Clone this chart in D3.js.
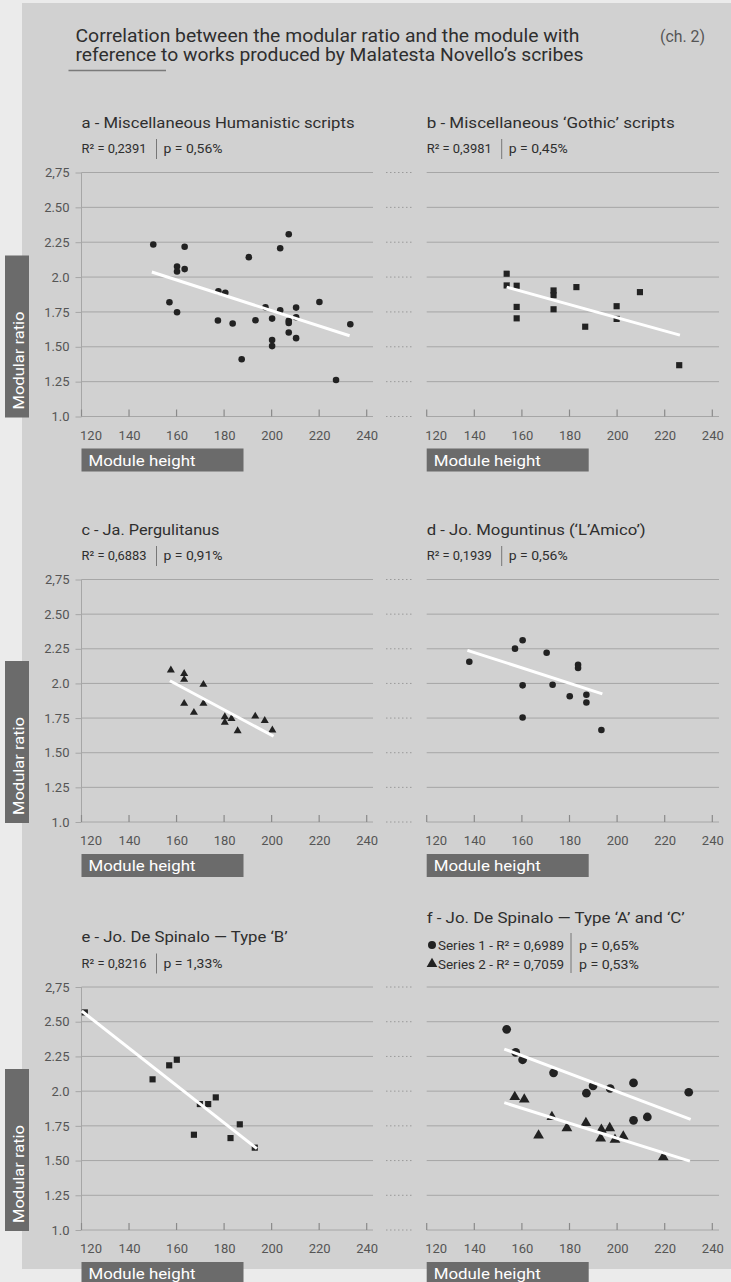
<!DOCTYPE html>
<html><head><meta charset="utf-8">
<script src="https://cdn.jsdelivr.net/npm/d3@7"></script>
<style>
html,body{margin:0;padding:0;background:#ebebeb;}
svg{display:block;font-family:Roboto,'Open Sans',sans-serif;}
</style></head>
<body>
<svg id="c" width="731" height="1282"></svg>
<script>
// ---------- DATA ----------
const xTicks = [120,140,160,180,200,220,240];
const yTicks = [1.0,1.25,1.5,1.75,2.0,2.25,2.5,2.75];
const yTickLabels = ["1.0","1.25","1.50","1.75","2.0","2.25","2.50","2,75"];

const titles = [
  "a - Miscellaneous Humanistic scripts",
  "b - Miscellaneous ‘Gothic’ scripts",
  "c - Ja. Pergulitanus",
  "d - Jo. Moguntinus (‘L’Amico’)",
  "e - Jo. De Spinalo — Type ‘B’",
  "f - Jo. De Spinalo — Type ‘A’ and ‘C’"
];
const rSquared = ["R² = 0,2391","R² = 0,3981","R² = 0,6883","R² = 0,1939","R² = 0,8216"];
const pValues = ["p = 0,56%","p = 0,45%","p = 0,91%","p = 0,56%","p = 1,33%"];
const seriesLegend = ["Series 1 - R² = 0,6989","Series 2 - R² = 0,7059"];
const seriesP = ["p = 0,65%","p = 0,53%"];

const pointsA = [[150.2,2.233],[160.2,2.076],[160.2,2.04],[163.4,2.217],[163.4,2.057],[157.0,1.819],[160.2,1.748],
  [177.6,1.898],[180.5,1.888],[177.4,1.688],[183.6,1.667],[190.4,2.143],[193.2,1.690],[187.4,1.410],[197.4,1.783],
  [200.2,1.702],[200.2,1.548],[200.2,1.505],[203.6,1.762],[203.6,2.207],[207.2,2.307],[207.2,1.686],[207.2,1.671],
  [207.2,1.602],[210.3,1.781],[210.3,1.712],[210.3,1.562],[220.1,1.821],[227.1,1.262],[233.1,1.662]];
const trendA = [[149.6,2.036],[232.8,1.579]];

const pointsB = [[153.6,2.024],[153.6,1.940],[157.8,1.938],[157.8,1.786],[157.8,1.704],[173.3,1.904],[173.3,1.870],
  [173.3,1.769],[182.9,1.928],[186.6,1.644],[199.8,1.791],[199.8,1.700],[209.6,1.892],[226.1,1.368]];
const trendB = [[153.6,1.928],[226.4,1.584]];

const pointsC = [[157.6,2.096],[163.2,2.071],[163.2,2.028],[163.2,1.855],[167.3,1.790],[171.3,1.992],[171.3,1.855],
  [180.3,1.758],[180.3,1.718],[183.1,1.746],[185.7,1.657],[193.1,1.763],[197.1,1.732],[200.3,1.662]];
const trendC = [[157.2,2.019],[200.8,1.619]];

const pointsD = [[137.9,2.157],[157.1,2.251],[160.3,2.312],[160.3,1.986],[160.3,1.754],[170.4,2.222],[172.9,1.990],
  [180.1,1.908],[183.6,2.135],[183.6,2.111],[187.1,1.918],[187.1,1.862],[193.4,1.664]];
const trendD = [[137.1,2.239],[193.8,1.925]];

const pointsE = [[121.4,2.567],[149.9,2.085],[156.9,2.186],[160.1,2.226],[167.3,1.686],[169.8,1.907],[173.3,1.907],
  [176.5,1.955],[182.7,1.662],[186.6,1.761],[192.9,1.593]];
const trendE = [[120.1,2.577],[193.8,1.586]];

const pointsF1 = [[153.6,2.445],[157.4,2.279],[160.3,2.226],[173.3,2.132],[187.1,1.985],[189.9,2.038],[197.1,2.019],
  [206.9,2.059],[206.9,1.790],[212.7,1.814],[230.1,1.992]];
const trendF1 = [[152.6,2.303],[230.9,1.797]];
const pointsF2 = [[157.0,1.958],[161.0,1.941],[172.6,1.814],[167.0,1.681],[178.9,1.734],[186.9,1.771],[193.4,1.722],
  [196.9,1.734],[193.1,1.660],[199.1,1.650],[202.6,1.674],[219.4,1.525]];
const trendF2 = [[152.6,1.917],[230.6,1.496]];

// ---------- LAYOUT ----------
const svg = d3.select("#c");
const PANEL_BG = "#d1d1d1", GRID = "#a6a6a6", DARK = "#222", TXT = "#2e2e2e", TICK = "#555", BOX = "#6b6b6b";

svg.append("rect").attr("x",0).attr("y",0).attr("width",731).attr("height",1282).attr("fill","#ebebeb");
svg.append("rect").attr("x",22).attr("y",3).attr("width",709).attr("height",1266).attr("fill",PANEL_BG);

// main title
const mt = svg.append("g").attr("fill",TXT).attr("font-size",18);
mt.append("text").attr("x",75.5).attr("y",41.5).attr("textLength",504).attr("lengthAdjust","spacingAndGlyphs")
  .text("Correlation between the modular ratio and the module with");
mt.append("text").attr("x",75.5).attr("y",61).attr("textLength",508).attr("lengthAdjust","spacingAndGlyphs")
  .text("reference to works produced by Malatesta Novello’s scribes");
svg.append("text").attr("x",660).attr("y",41.5).attr("fill","#555").attr("font-size",16).attr("textLength",45)
  .attr("lengthAdjust","spacingAndGlyphs").text("(ch. 2)");
svg.append("line").attr("x1",68.5).attr("x2",166).attr("y1",70.5).attr("y2",70.5).attr("stroke","#7a7a7a").attr("stroke-width",1.5);

const rows = [{top:172.5,bottom:416.5},{top:579.5,bottom:822},{top:987,bottom:1230}];
const cols = [{x0:81.5,x1:366.7,gridEnd:373,left:true},{x0:426.7,x1:712.3,gridEnd:719,left:false}];
const titleLen = [273,248,138,219,206,258];

function symbolPath(type,size){ return d3.symbol().type(type).size(size)(); }

function drawPanel(ci, ri, idx){
  const c = cols[ci], r = rows[ri];
  const x = d3.scaleLinear().domain([120,240]).range([c.x0,c.x1]);
  const y = d3.scaleLinear().domain([1,2.75]).range([r.bottom,r.top]);
  const g = svg.append("g");

  // gridlines
  g.append("g").selectAll("line").data(yTicks).join("line")
    .attr("x1",c.x0).attr("x2",c.gridEnd).attr("y1",d=>y(d)).attr("y2",d=>y(d))
    .attr("stroke",GRID).attr("stroke-width",1);

  if (c.left){
    const ya = d3.axisLeft(y).tickValues(yTicks).tickSize(6)
      .tickFormat((d,i)=>yTickLabels[i]);
    const yg = g.append("g").attr("transform",`translate(${c.x0},0)`).call(ya);
    yg.select(".domain").attr("stroke",GRID).attr("d",`M0,${r.top}V${r.bottom}`);
    yg.selectAll(".tick line").attr("stroke",GRID);
    yg.selectAll(".tick text").attr("fill",TICK).attr("font-size",13).attr("font-family","Roboto,sans-serif").attr("x",-12);
    g.append("g").selectAll("line").data(yTicks).join("line")
      .attr("x1",386).attr("x2",413).attr("y1",d=>y(d)).attr("y2",d=>y(d))
      .attr("stroke","#9a9a9a").attr("stroke-width",1).attr("stroke-dasharray","1.5,2.5");
    g.append("rect").attr("x",5).attr("y",r.bottom-161).attr("width",24).attr("height",162).attr("fill",BOX);
    g.append("text").attr("transform",`translate(23.5,${r.bottom-7}) rotate(-90)`)
      .attr("fill","#fff").attr("font-size",15.5).attr("textLength",98).attr("lengthAdjust","spacingAndGlyphs").text("Modular ratio");
  }
  const xa = d3.axisBottom(x).tickValues(xTicks).tickSize(0).tickPadding(14);
  const xg = g.append("g").attr("transform",`translate(0,${r.bottom})`).call(xa);
  xg.select(".domain").remove();
  xg.selectAll(".tick text").attr("fill",TICK).attr("font-size",13).attr("font-family","Roboto,sans-serif")
    .attr("dx",(d,i)=> i===0 ? 9 : 0);
  g.append("g").selectAll("line").data(xTicks).join("line")
    .attr("x1",d=>x(d)).attr("x2",d=>x(d)).attr("y1",r.bottom).attr("y2",r.bottom-7)
    .attr("stroke","#8a8a8a").attr("stroke-width",1.2);
  g.append("rect").attr("x",c.x0).attr("y",r.bottom+32).attr("width",162).attr("height",23).attr("fill",BOX);
  g.append("text").attr("x",c.x0+7).attr("y",r.bottom+49).attr("fill","#fff").attr("font-size",15.5)
    .attr("textLength",107).attr("lengthAdjust","spacingAndGlyphs").text("Module height");

  const isF = idx===5;
  g.append("text").attr("x",c.x0).attr("y",isF ? r.top-64 : r.top-45).attr("fill",TXT).attr("font-size",15.5)
    .attr("textLength",titleLen[idx]).attr("lengthAdjust","spacingAndGlyphs").text(titles[idx]);
  if (!isF){
    const by = r.top-19.5;
    g.append("text").attr("x",c.x0).attr("y",by).attr("fill",TXT).attr("font-size",12.5)
      .attr("textLength",65).attr("lengthAdjust","spacingAndGlyphs").text(rSquared[idx]);
    g.append("line").attr("x1",c.x0+75).attr("x2",c.x0+75).attr("y1",by-14).attr("y2",by+6).attr("stroke","#777");
    g.append("text").attr("x",c.x0+82).attr("y",by).attr("fill",TXT).attr("font-size",12.5)
      .attr("textLength",59).attr("lengthAdjust","spacingAndGlyphs").text(pValues[idx]);
  }
  return {g,x,y};
}

function drawPoints(p, data, type, size){
  p.g.append("g").selectAll("path").data(data).join("path")
    .attr("d",symbolPath(type,size))
    .attr("transform",d=>`translate(${p.x(d[0])},${p.y(d[1])})`)
    .attr("fill",DARK);
}
function drawTrend(p, t){
  p.g.append("line").attr("x1",p.x(t[0][0])).attr("y1",p.y(t[0][1])).attr("x2",p.x(t[1][0])).attr("y2",p.y(t[1][1]))
    .attr("stroke","#fff").attr("stroke-width",3);
}

let p;
p = drawPanel(0,0,0); drawPoints(p,pointsA,d3.symbolCircle,34); drawTrend(p,trendA);
p = drawPanel(1,0,1); drawPoints(p,pointsB,d3.symbolSquare,38); drawTrend(p,trendB);
p = drawPanel(0,1,2); drawPoints(p,pointsC,d3.symbolTriangle,28); drawTrend(p,trendC);
p = drawPanel(1,1,3); drawPoints(p,pointsD,d3.symbolCircle,34); drawTrend(p,trendD);
p = drawPanel(0,2,4); drawPoints(p,pointsE,d3.symbolSquare,38); drawTrend(p,trendE);
p = drawPanel(1,2,5); drawPoints(p,pointsF1,d3.symbolCircle,60); drawPoints(p,pointsF2,d3.symbolTriangle,50);
drawTrend(p,trendF1); drawTrend(p,trendF2);

// legend for panel f
const lg = svg.append("g");
const legendY = [949.5, 968.5];
const legendSym = [d3.symbolCircle, d3.symbolTriangle];
legendY.forEach((ly,i)=>{
  lg.append("path").attr("d",symbolPath(legendSym[i],50)).attr("transform",`translate(432,${ly-4.5})`).attr("fill",DARK);
  lg.append("text").attr("x",438).attr("y",ly).attr("fill",TXT).attr("font-size",12.5)
    .attr("textLength",126).attr("lengthAdjust","spacingAndGlyphs").text(seriesLegend[i]);
  lg.append("text").attr("x",579).attr("y",ly).attr("fill",TXT).attr("font-size",12.5)
    .attr("textLength",60).attr("lengthAdjust","spacingAndGlyphs").text(seriesP[i]);
});
lg.append("line").attr("x1",571).attr("x2",571).attr("y1",933).attr("y2",973).attr("stroke","#777");
</script>
</body></html>
